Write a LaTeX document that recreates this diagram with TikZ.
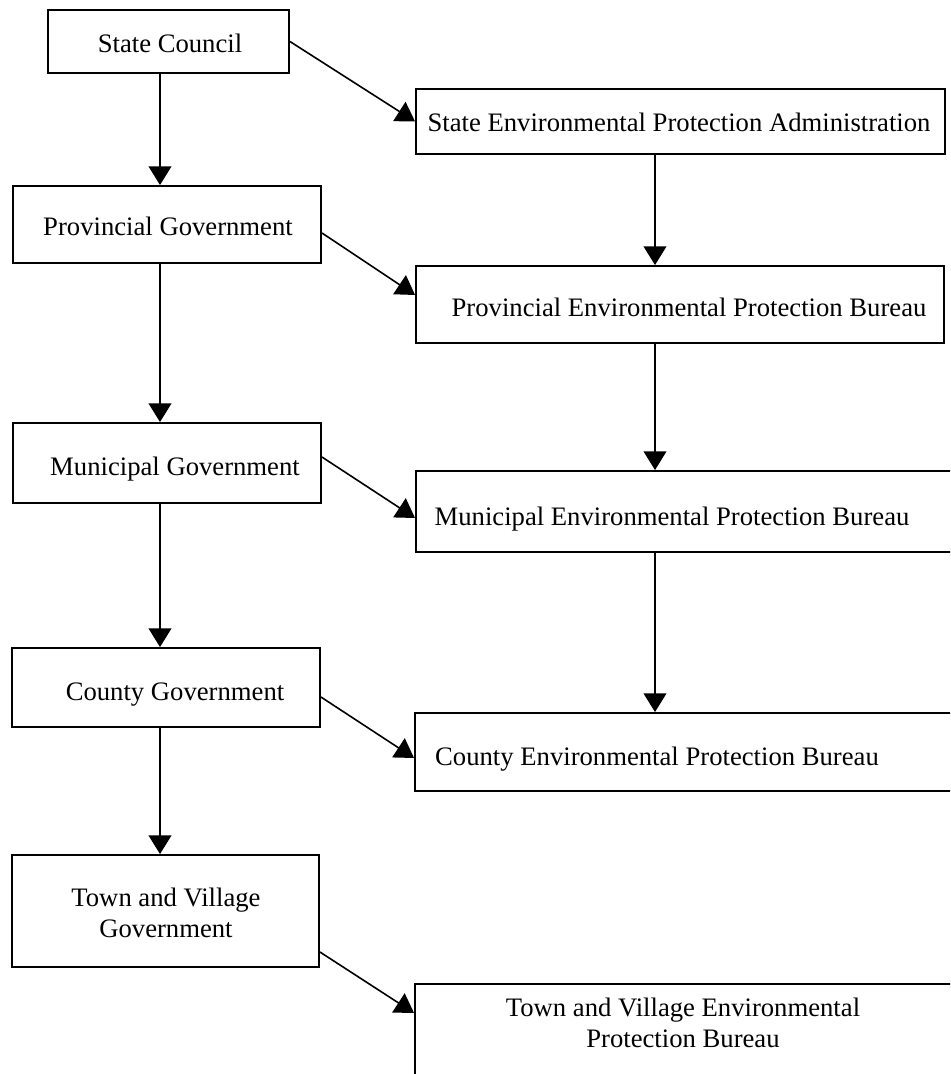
\documentclass[tikz,border=0pt]{standalone}
\usepackage{fontspec}
\setmainfont{Liberation Serif}
\usetikzlibrary{arrows.meta,calc,fit}
\begin{document}
\begin{tikzpicture}[x=0.75pt,y=-0.75pt,
  box/.style={draw=black, line width=1.4pt, inner sep=0pt, fill=white},
  lbl/.style={font=\fontsize{20}{23.25}\selectfont, inner sep=0pt, align=center},
  arr/.style={line width=1.2pt, -{Triangle[width=17pt,length=14pt]}}]
\useasboundingbox (0,0) rectangle (950,1074);
\clip (0,0) rectangle (950,1074);

% boxes
\node[box, fit={(48,10)(289,73)}] (sc) {};
\node[box, fit={(416,89)(945,154)}] (sepa) {};
\node[box, fit={(13,186)(321,263)}] (prov) {};
\node[box, fit={(416,266)(944,343)}] (pepb) {};
\node[box, fit={(13,423)(321,503)}] (muni) {};
\node[box, fit={(416,471)(980,552)}] (mepb) {};
\node[box, fit={(12,648)(320,727)}] (county) {};
\node[box, fit={(415,713)(980,791)}] (cepb) {};
\node[box, fit={(12,855)(319,967)}] (tv) {};
\node[box, fit={(415,984)(980,1120)}] (tvepb) {};

% labels
\node[lbl, anchor=base] (tsc) at (170,53) {State Council};
\node[lbl, anchor=base] (tsepa) at (679,132) {State Environmental Protection Administration};
\node[lbl, anchor=base] (tprov) at (168,235) {Provincial Government};
\node[lbl, anchor=base] (tpepb) at (689,316) {Provincial Environmental Protection Bureau};
\node[lbl, anchor=base] (tmuni) at (175,475) {Municipal Government};
\node[lbl, anchor=base] (tmepb) at (672,525) {Municipal Environmental Protection Bureau};
\node[lbl, anchor=base] (tcounty) at (175,700) {County Government};
\node[lbl, anchor=base] (tcepb) at (657,765) {County Environmental Protection Bureau};
\node[lbl] (ttv) at (166,913) {Town and Village\\Government};
\node[lbl] (ttvepb) at (683,1023) {Town and Village Environmental\\Protection Bureau};

% vertical connectors
\coordinate (lx) at (160,0);
\coordinate (rx) at (655,0);
\draw[arr] (lx |- sc.south) -- (lx |- prov.north);
\draw[arr] (lx |- prov.south) -- (lx |- muni.north);
\draw[arr] (lx |- muni.south) -- (lx |- county.north);
\draw[arr] (lx |- county.south) -- (lx |- tv.north);
\draw[arr] (rx |- sepa.south) -- (rx |- pepb.north);
\draw[arr] (rx |- pepb.south) -- (rx |- mepb.north);
\draw[arr] (rx |- mepb.south) -- (rx |- cepb.north);

% diagonal connectors
\draw[arr] (sc.east) -- (sepa.west);
\draw[arr] ($(prov.east)+(0,8.5)$) -- ($(pepb.west)+(0,-9.5)$);
\draw[arr] ($(muni.east)+(0,-6)$) -- ($(mepb.west)+(0,6.5)$);
\draw[arr] ($(county.east)+(0,9.5)$) -- ($(cepb.west)+(0,6)$);
\draw[arr] ($(tv.east)+(0,41)$) -- ($(tvepb.west)+(0,-39)$);
\end{tikzpicture}
\end{document}
